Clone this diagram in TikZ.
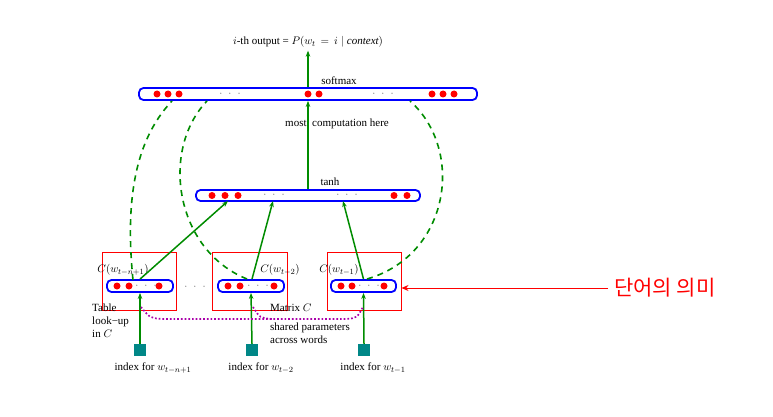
\documentclass[tikz,border=0pt]{standalone}
\usepackage{fontspec}
\setmainfont{Liberation Serif}
\newfontfamily\hangul{Noto Sans CJK KR}
\usetikzlibrary{arrows.meta,calc}
\definecolor{lgreen}{RGB}{0,140,0}
\definecolor{lblue}{RGB}{0,0,255}
\definecolor{lred}{RGB}{255,0,0}
\definecolor{lteal}{RGB}{0,135,135}
\definecolor{lpurple}{RGB}{170,0,170}
\begin{document}
\begin{tikzpicture}[x=1pt,y=-1pt,
  font=\fontsize{11}{13}\selectfont,
  layer/.style={draw=lblue,line width=1.8pt,rounded corners=4.5pt,fill=white,
    inner sep=0pt,minimum height=#1},
  layer/.default=12pt,
  unit/.style={circle,fill=lred,inner sep=0pt,minimum size=7pt},
  gap/.style={text=black!60,inner sep=0pt,font=\fontsize{11}{11}\selectfont},
  frame/.style={draw=lred,line width=1pt,inner sep=0pt,minimum width=74pt,minimum height=58pt},
  index/.style={fill=lteal,inner sep=0pt,minimum size=12pt},
  flow/.style={lgreen,line width=1.5pt,-{Stealth[length=6pt,width=4.5pt]}},
  share/.style={lgreen,line width=1.6pt,dash pattern=on 6pt off 5pt},
  lbl/.style={inner sep=0pt}]
\fill[white] (0,0) rectangle (773,417);
\useasboundingbox (0,0) rectangle (773,417);
\newcommand{\skipdots}{$\cdot\,\,\cdot\,\,\cdot$}

% output and hidden layers
\node[layer,minimum width=338pt] (soft) at (308,94) {};
\node[layer=11pt,minimum width=224pt] (tanh) at (308,195.5) {};
\foreach \x in {157,168,179,308,319,432,443,454} \node[unit] at (\x,94) {};
\node[gap] at (230,94) {\skipdots};
\node[gap] at (383,94) {\skipdots};
\foreach \x in {212,225,238,394,407} \node[unit] at (\x,195.5) {};
\node[gap] at (274,195.5) {\skipdots};
\node[gap] at (347,195.5) {\skipdots};

\node[lbl] (out) at (308,42) {$i$-th output = $P(w_t\,=\,i\mid \mathit{context})$};
\node[lbl] at (339,81) {softmax};
\node[lbl] at (337,124) {most\hspace{0.5em}computation here};
\node[lbl] at (330,182) {tanh};

% input word feature vectors
\node[frame] (f1) at (139,281) {};
\node[frame,minimum width=75pt] (f2) at (249.5,281) {};
\node[frame] (f3) at (364,281) {};
\node[layer,minimum width=66pt] (b1) at (140,286) {};
\node[layer,minimum width=66pt] (b2) at (251,286) {};
\node[layer,minimum width=65pt] (b3) at (363.5,286) {};
\foreach \x in {117,129,159,228,240,274,341,352,384} \node[unit] at (\x,286) {};
\node[gap] at (146,286) {\skipdots};
\node[gap] at (258,286) {\skipdots};
\node[gap] at (369,286) {\skipdots};
\node[gap] at (195,287) {\skipdots};

\node[lbl] at (123,270) {$C(w_{t-n+1})$};
\node[lbl] at (280,270) {$C(w_{t-2})$};
\node[lbl] at (339,270) {$C(w_{t-1})$};

% word indices
\node[index] (i1) at (140,350) {};
\node[index] (i2) at (252,350) {};
\node[index] (i3) at (364,350) {};
\node[lbl] at (153,368) {index for $w_{t-n+1}$};
\node[lbl] at (261,368) {index for $w_{t-2}$};
\node[lbl] at (373,368) {index for $w_{t-1}$};

\node[lbl,align=left,anchor=west] at (92,321) {Table\\look−up\\in $C$};
\node[lbl,anchor=west] at (270,308) {Matrix $C$};
\node[lbl,align=left,anchor=west] at (270,333) {shared parameters\\across words};

% connection points on the hidden and output layers
\coordinate (t1) at (228,201);
\coordinate (t2) at (273,201);
\coordinate (t3) at (343,201);
\coordinate (s1) at (172,101);
\coordinate (s2) at (207,101);
\coordinate (s3) at (410,101);
\coordinate (d1) at (133,280);
\coordinate (d2) at (247,279);
\coordinate (d3) at (367,279);

\draw[flow] (i1.north) -- (b1.south);
\draw[flow] (i2.north) -- (b2.south);
\draw[flow] (i3.north) -- (b3.south);
\draw[flow] (b1.north) -- (t1);
\draw[flow] ($(b2.north)+(1,0)$) -- (t2);
\draw[flow] (b3.north) -- (t3);
\draw[flow] (tanh.north) -- (soft.south);
\draw[flow] (soft.north) -- ($(out.south)+(0,3)$);

% direct connections to the output layer
\draw[share] (d1) .. controls (125,200) and (135,140) .. (s1);
\draw[share] (d2) .. controls (175,250) and (160,150) .. (s2);
\draw[share] (d3) .. controls (450,255) and (465,150) .. (s3);

% shared look-up table
\draw[lpurple,line width=1.7pt,dash pattern=on 1.7pt off 2pt]
  (141,307) .. controls (150,318) .. (162,319) -- (346,319)
  .. controls (357,318) .. (363,307);
\draw[lpurple,line width=1.7pt,dash pattern=on 1.7pt off 2pt]
  (253,307) .. controls (260,318) .. (272,319);

% annotation
\node[lbl,text=lred,font=\hangul\fontsize{21}{24}\selectfont,anchor=west] (mean) at (614,288) {단어의 의미};
\draw[lred,line width=1pt,-{Stealth[length=7pt,width=6pt]}] (mean.west)+(-6,0) -- (f3.east |- mean.west);
\end{tikzpicture}
\end{document}
